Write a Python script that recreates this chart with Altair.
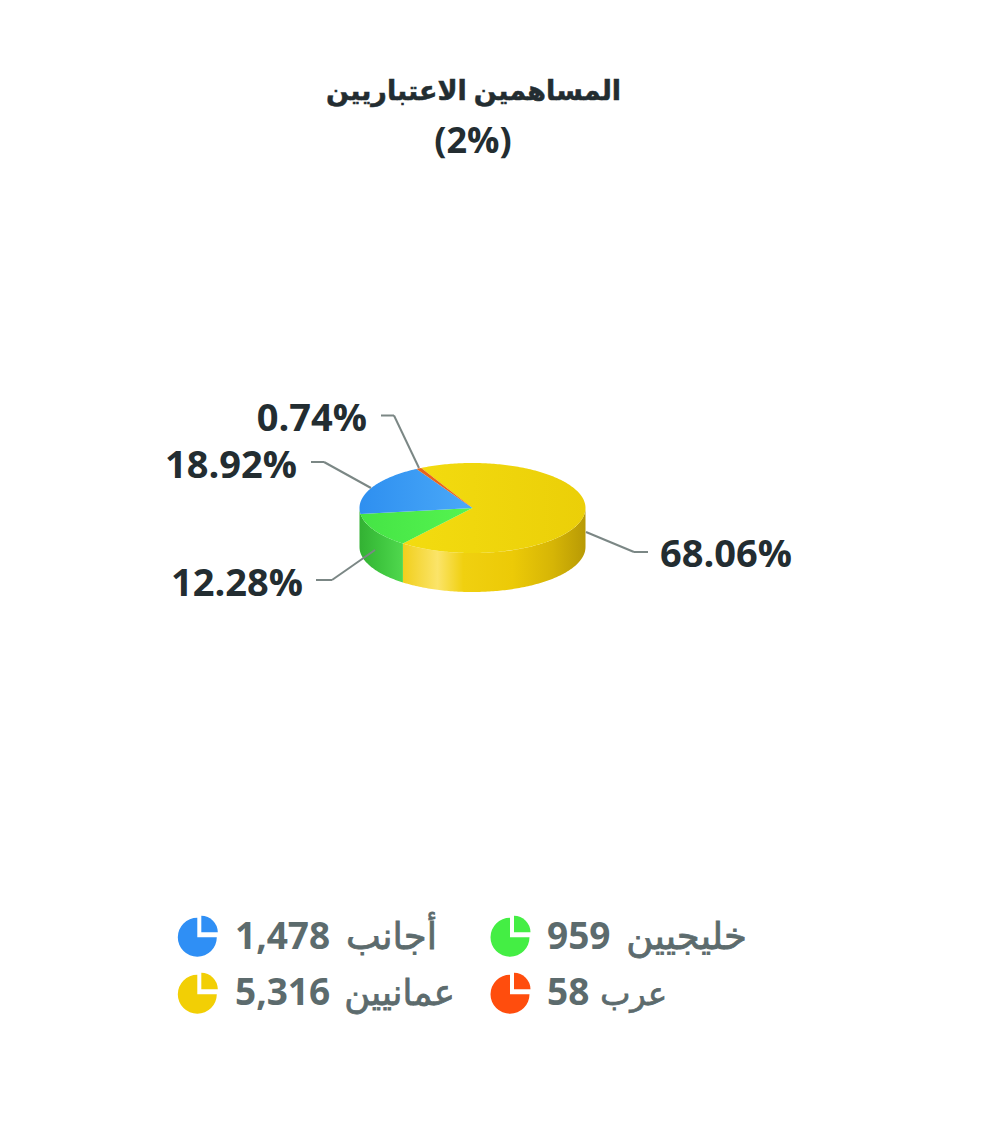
import numpy as np
import pandas as pd
import altair as alt

# ---- data
names = ["عمانيين", "خليجيين", "أجانب", "عرب"]
counts = [5316, 959, 1478, 58]
percent_labels = ["68.06%", "12.28%", "18.92%", "0.74%"]
count_labels = ["5,316", "959", "1,478", "58"]
title_lines = ["المساهمين الاعتباريين", "(2%)"]
top_colors = ["#eed409", "#4cf04c", "#3c9df5", "#e8641c"]
icon_colors = ["#f2cf05", "#44ee44", "#2f8ff5", "#ff4d0d"]

# ---- layout
W, H = 984, 1118
OFF = 8
CX, CY, RX, RY = 472.5, 508, 113, 45
DEPTH = 39 / 45
START_DEG = -27
TEXT_DARK = "#232d31"
TEXT_GREY = "#5c6b6d"
FONT = "Open Sans, DejaVu Sans, sans-serif"

x_scale = alt.Scale(domain=[-1, 1], range=[CX - RX - OFF, CX + RX - OFF])
y_scale = alt.Scale(domain=[-1, 1], range=[CY + RY - OFF, CY - RY - OFF])

shares = np.array(counts, dtype=float) / sum(counts)
edges = START_DEG + 360 * np.concatenate([[0], np.cumsum(shares)])

top_rows, side_rows = [], []
for k, name in enumerate(names):
    a0, a1 = edges[k], edges[k + 1]
    th = np.radians(np.linspace(a0, a1, max(int(abs(a1 - a0)) + 2, 3)))
    top_rows.append({"s": k, "i": 0, "px": 0.0, "py": 0.0})
    for j, t in enumerate(th):
        top_rows.append({"s": k, "i": j + 1, "px": float(np.sin(t)), "py": float(np.cos(t))})
    top_rows.append({"s": k, "i": len(th) + 1, "px": 0.0, "py": 0.0})
    # visible front wall: only the two front slices show one
    if k < 2:
        lo, hi = max(a0, 90), (a1 if k == 0 else 270)
        tw = np.radians(np.linspace(lo, hi, int(hi - lo) + 2))
        for t in tw:
            side_rows.append({"s": k, "px": float(np.sin(t)), "py": float(np.cos(t)),
                              "py2": float(np.cos(t)) - DEPTH})
top_df = pd.DataFrame(top_rows)
side_df = pd.DataFrame(side_rows)


def grad(stops):
    return alt.Gradient(gradient="linear", x1=0, x2=1, y1=0, y2=0,
                        stops=[alt.GradientStop(offset=o, color=c) for o, c in stops])


side_grads = {
    0: grad([(0, "#f1cf1c"), (0.19, "#fbe469"), (0.33, "#f0d010"), (0.6, "#ecca07"),
             (0.82, "#d6b506"), (1, "#b89a05")]),
    1: grad([(0, "#33b133"), (0.5, "#3fc63f"), (1, "#50d84e")]),
}
top_fills = {
    0: grad([(0, "#f3dc10"), (1, "#ebcf08")]),
    1: grad([(0, "#45e445"), (1, "#55f450")]),
    2: grad([(0, "#2e8ff0"), (1, "#4aa9f8")]),
    3: top_colors[3],
}

layers = []
for k in [0, 1]:
    layers.append(
        alt.Chart(side_df[side_df["s"] == k]).mark_area(fill=side_grads[k]).encode(
            x=alt.X("px:Q", scale=x_scale, axis=None),
            y=alt.Y("py:Q", scale=y_scale, axis=None),
            y2="py2:Q",
        )
    )
for k in [0, 1, 2, 3]:
    layers.append(
        alt.Chart(top_df[top_df["s"] == k]).mark_line(fill=top_fills[k], strokeWidth=0, stroke="transparent").encode(
            x=alt.X("px:Q", scale=x_scale, axis=None),
            y=alt.Y("py:Q", scale=y_scale, axis=None),
            order="i:Q",
        )
    )

dummy = pd.DataFrame({"a": [0]})


def seg(x1, y1, x2, y2):
    return alt.Chart(dummy).mark_rule(color="#7b8785", strokeWidth=2).encode(
        x=alt.value(x1 - OFF), y=alt.value(y1 - OFF), x2=alt.value(x2 - OFF), y2=alt.value(y2 - OFF))


def polyline(pts):
    return [seg(*pts[i], *pts[i + 1]) for i in range(len(pts) - 1)]


leaders = [
    [(586, 532), (634, 552), (648, 552)],
    [(316, 580), (332, 580), (375, 550)],
    [(311, 462), (324, 462), (371, 488)],
    [(381, 415.5), (394, 415.5), (419, 468)],
]
for pts in leaders:
    layers += polyline(pts)


def txt(s, x, y, size, color, align="left", weight="bold", halo=0):
    kw = {"stroke": color, "strokeWidth": halo} if halo else {}
    return alt.Chart(dummy).mark_text(
        font=FONT, fontSize=size, fontWeight=weight, color=color, align=align, baseline="alphabetic", **kw
    ).encode(x=alt.value(x - OFF), y=alt.value(y - OFF), text=alt.value(s))


layers.append(txt(title_lines[0], 473.5, 100, 27, TEXT_DARK, "center", halo=0.5))
layers.append(txt(title_lines[1], 473, 153, 36, TEXT_DARK, "center"))

pct_pos = [(792, 567), (303, 596), (297, 478), (367, 431)]
for lab, (x, y) in zip(percent_labels, pct_pos):
    layers.append(txt(lab, x, y, 38, TEXT_DARK, "right"))

# icon x, icon y, number x, name right edge, baseline, name size
leg_pos = [(197.3, 994.3, 235, 455, 1005, 35.5), (510, 937.3, 547, 747, 949, 37),
           (197.3, 937.3, 235, 437, 949, 37), (510, 994.3, 547, 667, 1005, 32)]
for k, (ix, iy, tx, rx, ty, ns) in enumerate(leg_pos):
    c = icon_colors[k]
    layers.append(alt.Chart(dummy).mark_arc(radius=19.5, theta=np.pi / 2, theta2=2 * np.pi, color=c).encode(
        x=alt.value(ix - OFF), y=alt.value(iy - OFF)))
    layers.append(alt.Chart(dummy).mark_arc(radius=16.5, theta=0, theta2=np.pi / 2, color=c).encode(
        x=alt.value(ix + 4 - OFF), y=alt.value(iy - 5 - OFF)))
    layers.append(txt(count_labels[k], tx, ty, 37, TEXT_GREY))
    layers.append(txt(names[k], rx, ty, ns, TEXT_GREY, "right", weight="normal", halo=0.8))

chart = alt.layer(*layers).properties(
    width=W, height=H, padding=0, autosize=alt.AutoSizeParams(type="none"),
    background="white",
).configure_view(stroke=None)

chart.save("out.html", embed_options={"renderer": "svg", "actions": False})
